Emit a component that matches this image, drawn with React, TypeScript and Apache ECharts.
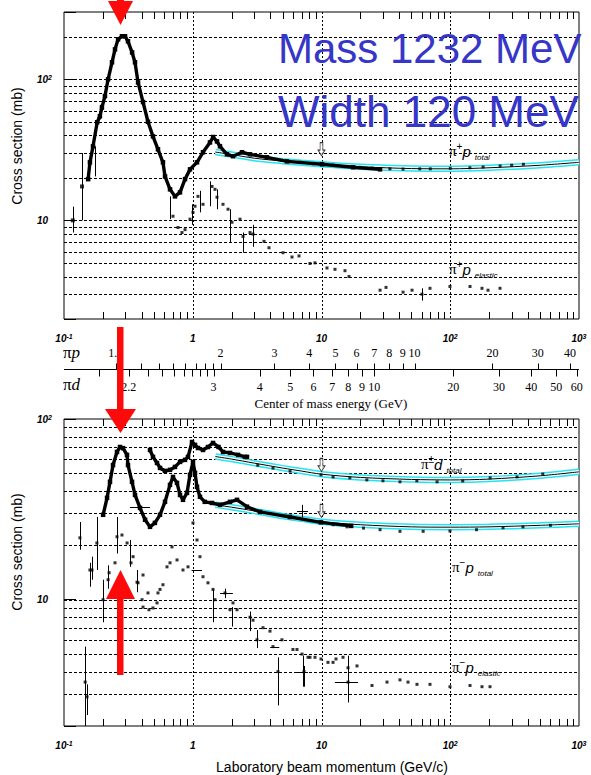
import React, { useEffect, useRef } from "react";
import * as echarts from "echarts";

// ---------- data : [lab beam momentum (GeV/c), cross section (mb)] ----------
// top panel : pi+ p
const pipTotal = [
  [0.154, 19.6], [0.159, 25.8], [0.168, 33.5], [0.181, 49.6], [0.19, 54.7], [0.197, 63], [0.208, 76],
  [0.22, 100], [0.236, 132], [0.249, 163], [0.263, 192], [0.282, 202], [0.298, 202], [0.314, 186],
  [0.338, 155], [0.356, 132], [0.376, 95], [0.411, 69], [0.449, 50], [0.491, 39.4], [0.537, 31.9],
  [0.587, 25.8], [0.609, 20.5], [0.666, 16.6], [0.728, 14.8], [0.796, 15.8], [0.871, 19.6], [0.952, 23],
  [1.079, 25.8], [1.201, 30.4], [1.361, 35.7], [1.44, 39], [1.543, 36.3], [1.628, 33.5], [1.845, 29.4],
  [2.054, 28.5], [2.413, 30.4], [2.784, 29.4], [3.773, 28], [5.395, 26.2], [10.1, 25], [17.6, 23.8], [28.5, 23],
];
const pipTotalLow = [[0.117, 10], [0.138, 17.4]];
const pipTotalHigh = [
  [6.8, 25.8], [8.6, 25.2], [12.3, 24.6], [15.8, 24.1], [19.9, 23.8], [24.7, 23.5], [34, 23.2], [43, 23.1],
  [58, 23.2], [70, 23.2], [100, 23.4], [142, 23.6], [180, 23.9], [244, 24.3], [300, 24.6], [370, 25],
];
const pipFit = [
  [1.5, 30.5], [2, 29.3], [3, 27.6], [5, 26.3], [7, 25.6], [10, 25], [20, 24], [50, 23.3], [100, 23.2],
  [200, 23.6], [500, 24.6], [1000, 25.8],
];
const pipElastic = [
  [0.702, 10.7], [0.768, 8.9], [0.825, 8.2], [0.871, 8.6], [0.952, 10.2], [1.004, 11.4], [1.041, 12.6],
  [1.098, 14.8], [1.201, 13.0], [1.411, 17.4], [1.489, 16.6], [1.543, 14.6], [1.718, 13.0], [1.879, 12.0],
  [2.018, 9.7], [2.328, 10.2], [2.457, 7.7], [2.784, 8.2], [2.938, 8.0], [3.576, 7.1], [3.91, 6.4],
  [5.02, 5.9], [5.9, 5.5], [6.69, 5.6], [8.14, 4.95], [8.9, 5.0], [11.03, 4.6], [12.73, 4.5], [15.22, 4.4],
  [16.35, 4.0], [28.5, 3.2], [31.7, 3.35], [43, 3.1], [50.5, 3.2], [60.3, 3.0], [69.6, 3.3], [99.5, 3.4],
  [142.4, 3.4], [176.4, 3.3], [196.5, 3.2], [243.5, 3.3],
];
// [p, low, high]
const pipErrV = [
  [0.117, 8.2, 12.5], [0.138, 10, 30], [0.174, 20.5, 33.5], [0.19, 52, 66], [0.666, 10.2, 14.8],
  [0.987, 9.3, 13], [1.138, 11.4, 16.2], [1.361, 12.6, 18.9], [1.543, 12, 16.6], [1.947, 7, 12],
  [2.457, 5.9, 8.2], [2.938, 6.5, 9.3], [60.3, 2.7, 3.3],
];
const topMarkers = [[10, 32]];

// bottom panel : pi+- d, pi- p
const pidTotal = [
  [0.4656, 67.4], [0.4913, 61.7], [0.5277, 57.1], [0.5568, 53.6], [0.6088, 51.6], [0.6657, 52.3],
  [0.728, 54.3], [0.7962, 57.9], [0.8708, 59.4], [0.9186, 61.7], [0.9867, 74.6], [1.041, 71.9],
  [1.098, 69.1], [1.201, 67.4], [1.313, 70], [1.437, 73.7], [1.585, 70], [1.718, 65.7], [1.947, 64.9],
  [2.25, 63.3], [2.547, 61.7], [2.638, 61.7],
];
const pidTotalHigh = [
  [3.2, 55.5], [4.2, 53.5], [5.7, 51.5], [9.91, 49.1], [12.3, 47.8], [16.6, 47.2], [22.5, 46], [30, 45.5],
  [40.7, 44.9], [55, 45.5], [79, 44.9], [125, 45.4], [204, 47.2], [330, 47.8], [523, 49.6],
];
const pidFit = [
  [1.5, 62], [2, 60], [3, 57], [5, 53.5], [7, 51.5], [10, 49.5], [20, 47.5], [50, 46.3], [100, 46],
  [200, 46.5], [500, 48.5], [1000, 51],
];
const pimTotal = [
  [0.2013, 29.5], [0.216, 36.6], [0.2277, 44.9], [0.2403, 55.6], [0.258, 65.7], [0.2723, 70], [0.2873, 69],
  [0.3085, 63.3], [0.3142, 55.6], [0.3375, 44.9], [0.3561, 38], [0.3893, 32.2], [0.4264, 27.7],
  [0.4656, 25.3], [0.5083, 26.6], [0.5568, 29.5], [0.6088, 34.8], [0.6657, 43.2], [0.7024, 47.8],
  [0.7546, 44.3], [0.7962, 38], [0.8401, 35.7], [0.9023, 39], [0.952, 49.1], [1.0044, 57.9], [1.041, 50.3],
  [1.079, 42.1], [1.138, 37.1], [1.24, 34.8], [1.411, 34.3], [1.628, 33.5], [1.947, 34.8], [2.207, 35.7],
  [2.638, 32.7], [3.329, 30.6], [5.693, 28.7], [9.91, 26.8], [17, 25.6],
];
const pimTotalHigh = [
  [12.3, 26], [15.8, 25.3], [21.2, 24.9], [28.5, 24.4], [40.7, 23.9], [61.6, 23.9], [99.5, 24],
  [160, 24.4], [257, 25], [367, 25.3], [600, 25.8],
];
const pimFit = [
  [1.5, 33.5], [2, 32.5], [3, 31], [5, 29], [7, 28], [10, 27], [20, 26], [50, 25.3], [100, 25.2],
  [200, 25.3], [500, 25.8], [1000, 26.3],
];
const pimElastic = [
  [0.133, 22], [0.146, 3.5], [0.151, 2.9], [0.159, 14.6], [0.165, 14.6], [0.18, 20.6], [0.201, 10],
  [0.22, 12.9], [0.224, 14.1], [0.249, 16], [0.258, 22.3], [0.282, 22.8], [0.309, 20.6], [0.3315, 16],
  [0.344, 17.3], [0.369, 12.5], [0.376, 12.4], [0.404, 10], [0.411, 13.7], [0.411, 9.1], [0.449, 10.9],
  [0.457, 8.8], [0.491, 9.0], [0.528, 9.6], [0.537, 10.9], [0.557, 11.4], [0.587, 12.1], [0.631, 15.2],
  [0.666, 16], [0.69, 19.6], [0.755, 16.6], [0.84, 14.6], [0.919, 15.2], [1.004, 26.6], [1.079, 21.4],
  [1.138, 17.3], [1.201, 13.4], [1.313, 12.4], [1.437, 11.4], [1.489, 10], [1.78, 10.9], [1.947, 8.8],
  [2.054, 9.6], [2.207, 8.8], [2.784, 8.0], [2.938, 7.7], [3.155, 6.0], [3.512, 7.0], [3.98, 6.7],
  [4.2, 5.5], [4.59, 4.0], [4.93, 6.0], [6.0, 5.3], [6.45, 5.3], [7.06, 5.0], [7.31, 4.0], [7.86, 4.8],
  [8.14, 4.8], [8.9, 4.8], [9.91, 4.7], [11.23, 4.5], [12.29, 4.5], [12.96, 4.7], [14.69, 4.8],
  [16.07, 4.2], [16.07, 3.5], [18.87, 4.3], [24.67, 3.35], [32.27, 3.5], [40.71, 3.6], [46.97, 3.5],
  [55.16, 3.4], [69.6, 3.4], [99.5, 3.3], [142.4, 3.35], [176.4, 3.3], [203.6, 3.3],
];
// [p, low, high]
const botErrV = [
  [0.133, 18.9, 26.9], [0.146, 2.0, 5.5], [0.151, 2.3, 3.4], [0.159, 11.8, 16], [0.18, 14.6, 28.7],
  [0.165, 12.9, 17.3], [0.201, 7.5, 12.9], [0.22, 11.5, 15.5], [0.258, 18, 28.7], [0.3256, 15.2, 21.4],
  [0.369, 11, 14.6], [1.437, 7.5, 11.4], [1.78, 10.2, 11.5], [2.02, 7.1, 9.1], [2.78, 6.7, 8.6],
  [3.155, 5.4, 6.8], [4.59, 2.6, 4.8], [7.31, 3.3, 4.3], [7.18, 3.3, 4.9], [16.07, 2.7, 4.9], [7.1, 28.5, 33.5],
];
// [sigma, pLow, pHigh]
const botErrH = [
  [32.6, 0.325, 0.466], [14.6, 0.98, 1.18], [10.9, 1.63, 2.05], [5.5, 4.0, 4.7], [4.0, 6.45, 7.85],
  [3.5, 12.7, 19.2], [31, 6.45, 7.85],
];
const botMarkers = [[10, 55.7], [10, 31]];

// axes
const topGridLines = [3, 4, 5, 6, 7, 8, 9, 10, 20, 30, 40, 50, 60, 70, 80, 90, 100, 200];
const botGridLines = [3, 4, 5, 6, 7, 8, 9, 10, 20, 30, 40, 50, 60, 70, 80, 90];
const xDecadeLines = [1, 10, 100];
const xMinorTicks: number[] = [];
[0.1, 1, 10, 100].forEach((d) => [2, 3, 4, 5, 6, 7, 8, 9].forEach((m) => xMinorTicks.push(+(d * m).toPrecision(3))));

// centre-of-mass energy scales (GeV)
const piPLabels = [1.2, 2, 3, 4, 5, 6, 7, 8, 9, 10, 20, 30, 40];
const piPMinor = [1.3, 1.4, 1.5, 1.6, 1.7, 1.8, 1.9];
const piDLabels = [2.2, 3, 4, 5, 6, 7, 8, 9, 10, 20, 30, 40, 50, 60];
const piDMinor = [2.1, 2.3, 2.4, 2.5, 2.6, 2.7, 2.8, 2.9];
const mPi = 0.13957, mP = 0.93827, mD = 1.87561;
function labP(W: number, M: number) {
  const E = (W * W - mPi * mPi - M * M) / (2 * M);
  return Math.sqrt(E * E - mPi * mPi);
}

// ---------- helpers ----------
const BLACK = "#000";
const CYAN = "#22e4f2";
const SANS = "Liberation Sans";
const SERIF = "Liberation Serif";

const axRich = {
  b: { fontFamily: SANS, fontSize: 10, fontWeight: "bold", fontStyle: "italic", color: BLACK, lineHeight: 11 },
  s: { fontFamily: SANS, fontSize: 7, fontWeight: "bold", fontStyle: "italic", color: BLACK, lineHeight: 6, verticalAlign: "top" },
};
function powFmt(v: number) {
  const l = Math.log10(v);
  const e = Math.round(l);
  if (Math.abs(l - e) > 1e-6) return "";
  if (e === 0) return "{b|1}";
  if (e === 1) return "{b|10}";
  return `{b|10}{s|${e}}`;
}

function hLines(vals: number[], gi: number) {
  return {
    type: "custom", xAxisIndex: gi, yAxisIndex: gi, silent: true, z: 1,
    data: vals.map((v) => [1, v]),
    renderItem: (params: any, api: any) => {
      const cs = params.coordSys;
      const y = Math.round(api.coord([1, api.value(1)])[1]) + 0.5;
      return { type: "line", shape: { x1: cs.x, y1: y, x2: cs.x + cs.width, y2: y }, style: { stroke: BLACK, lineWidth: 1, lineDash: [3, 2] } };
    },
  };
}
function vLines(vals: number[], gi: number) {
  return {
    type: "custom", xAxisIndex: gi, yAxisIndex: gi, silent: true, z: 1,
    data: vals.map((v) => [v, 10]),
    renderItem: (params: any, api: any) => {
      const cs = params.coordSys;
      const x = Math.round(api.coord([api.value(0), 10])[0]) + 0.5;
      return { type: "line", shape: { x1: x, y1: cs.y, x2: x, y2: cs.y + cs.height }, style: { stroke: BLACK, lineWidth: 1, lineDash: [2, 2] } };
    },
  };
}
function xTicks(vals: number[], gi: number, len: number) {
  return {
    type: "custom", xAxisIndex: gi, yAxisIndex: gi, silent: true, z: 1,
    data: vals.map((v) => [v, 10]),
    renderItem: (params: any, api: any) => {
      const cs = params.coordSys;
      const x = Math.round(api.coord([api.value(0), 10])[0]) + 0.5;
      const st = { stroke: BLACK, lineWidth: 1 };
      return {
        type: "group",
        children: [
          { type: "line", shape: { x1: x, y1: cs.y, x2: x, y2: cs.y + len }, style: st },
          { type: "line", shape: { x1: x, y1: cs.y + cs.height, x2: x, y2: cs.y + cs.height - len }, style: st },
        ],
      };
    },
  };
}
function errV(data: number[][], gi: number) {
  return {
    type: "custom", xAxisIndex: gi, yAxisIndex: gi, silent: true, z: 6, data,
    renderItem: (params: any, api: any) => {
      const a = api.coord([api.value(0), api.value(1)]);
      const b = api.coord([api.value(0), api.value(2)]);
      const x = Math.round(a[0]) + 0.5;
      return { type: "line", shape: { x1: x, y1: a[1], x2: x, y2: b[1] }, style: { stroke: BLACK, lineWidth: 1 } };
    },
  };
}
function errH(data: number[][], gi: number) {
  return {
    type: "custom", xAxisIndex: gi, yAxisIndex: gi, silent: true, z: 6, data,
    renderItem: (params: any, api: any) => {
      const a = api.coord([api.value(1), api.value(0)]);
      const b = api.coord([api.value(2), api.value(0)]);
      const y = Math.round(a[1]) + 0.5;
      return { type: "line", shape: { x1: a[0], y1: y, x2: b[0], y2: y }, style: { stroke: BLACK, lineWidth: 1 } };
    },
  };
}
function thick(data: number[][], gi: number) {
  return {
    type: "line", xAxisIndex: gi, yAxisIndex: gi, data, silent: true, z: 7,
    lineStyle: { color: BLACK, width: 3.4 }, itemStyle: { color: BLACK },
    symbol: "rect", symbolSize: 4.5, showSymbol: true,
  };
}
function dots(data: number[][], gi: number, size = 3) {
  return {
    type: "scatter", xAxisIndex: gi, yAxisIndex: gi, data, silent: true, z: 7,
    symbol: "rect", symbolSize: size, itemStyle: { color: BLACK },
  };
}
function fitBand(data: number[][], gi: number) {
  const base = { type: "line", xAxisIndex: gi, yAxisIndex: gi, data, silent: true, symbol: "none", smooth: 0.3 };
  return [
    { ...base, z: 3, lineStyle: { color: CYAN, width: 6.5 } },
    { ...base, z: 4, lineStyle: { color: "#fff", width: 3.5 } },
    { ...base, z: 5, lineStyle: { color: BLACK, width: 1 } },
  ];
}
function markers(data: number[][], gi: number) {
  return {
    type: "scatter", xAxisIndex: gi, yAxisIndex: gi, data, silent: true, z: 8,
    symbol: "path://M3,0 L7,0 L7,8 L10,8 L5,14 L0,8 L3,8 Z", symbolSize: [7, 13],
    itemStyle: { color: "#fff", borderColor: BLACK, borderWidth: 0.9 },
  };
}
const xAxisOf = (gi: number) => ({
  type: "log", logBase: 10, min: 0.1, max: 1000, gridIndex: gi,
  axisLine: { show: false }, axisTick: { show: false }, splitLine: { show: false },
  axisLabel: { formatter: powFmt, rich: axRich, margin: 14, color: BLACK },
});
const yAxisOf = (gi: number, min: number, max: number) => ({
  type: "log", logBase: 10, min, max, gridIndex: gi,
  axisLine: { show: false }, splitLine: { show: false },
  axisTick: { show: true, inside: true, length: 12, lineStyle: { color: BLACK } },
  axisLabel: { formatter: powFmt, rich: axRich, margin: 27, align: "left", color: BLACK },
});

const option: any = {
  animation: false,
  backgroundColor: "#fff",
  textStyle: { fontFamily: SANS },
  grid: [
    { left: 64, top: 12, width: 515, height: 307, show: true, borderColor: BLACK, borderWidth: 1 },
    { left: 64, top: 419, width: 515, height: 307, show: true, borderColor: BLACK, borderWidth: 1 },
  ],
  xAxis: [xAxisOf(0), xAxisOf(1)],
  yAxis: [yAxisOf(0, 2, 300), yAxisOf(1, 2, 100)],
  series: [
    hLines(topGridLines, 0), vLines(xDecadeLines, 0), xTicks(xMinorTicks, 0, 7),
    hLines(botGridLines, 1), vLines(xDecadeLines, 1), xTicks(xMinorTicks, 1, 7),
    ...fitBand(pipFit, 0), thick(pipTotal, 0), dots(pipTotalLow, 0, 4), dots(pipTotalHigh, 0, 3),
    dots(pipElastic, 0, 3), errV(pipErrV, 0), markers(topMarkers, 0),
    ...fitBand(pidFit, 1), ...fitBand(pimFit, 1), thick(pidTotal, 1), thick(pimTotal, 1),
    dots(pidTotalHigh, 1, 3), dots(pimTotalHigh, 1, 3), dots(pimElastic, 1, 3),
    errV(botErrV, 1), errH(botErrH, 1), markers(botMarkers, 1),
  ],
};

function buildGraphics(chart: any) {
  const px = (p: number) => chart.convertToPixel({ xAxisIndex: 0 }, p) as number;
  const g: any[] = [];
  const Z = 100;
  const text = (x: number, y: number, t: string, font: string, extra: any = {}, el: any = {}) => ({
    type: "text", x, y, z: Z, ...el,
    style: { text: t, font, fill: BLACK, align: "center", verticalAlign: "middle", textAlign: "center", textVerticalAlign: "middle", ...extra },
  });
  // centre-of-mass axis
  const yl = 369.5;
  g.push({ type: "line", z: Z, shape: { x1: px(0.1), y1: yl, x2: px(1000), y2: yl }, style: { stroke: BLACK, lineWidth: 1 } });
  [...piPLabels, ...piPMinor].forEach((W) => {
    const x = Math.round(px(labP(W, mP))) + 0.5;
    g.push({ type: "line", z: Z, shape: { x1: x, y1: yl - 6, x2: x, y2: yl }, style: { stroke: BLACK, lineWidth: 1 } });
  });
  piPLabels.forEach((W) => g.push(text(px(labP(W, mP)), 353, String(W), `12px "${SERIF}"`)));
  [...piDLabels, ...piDMinor].forEach((W) => {
    const x = Math.round(px(labP(W, mD))) + 0.5;
    g.push({ type: "line", z: Z, shape: { x1: x, y1: yl, x2: x, y2: yl + 7 }, style: { stroke: BLACK, lineWidth: 1 } });
  });
  piDLabels.forEach((W) => g.push(text(px(labP(W, mD)), 387, String(W), `12px "${SERIF}"`)));
  const piRich = {
    pi: { fontFamily: SERIF, fontSize: 17, fill: BLACK, lineHeight: 14 },
    it: { fontFamily: SERIF, fontSize: 17, fontStyle: "italic", fill: BLACK, lineHeight: 14 },
  };
  g.push(text(63, 352, "{pi|π}{it|p}", `17px "${SERIF}"`, { rich: piRich, align: "left", textAlign: "left" }));
  g.push(text(63, 384, "{pi|π}{it|d}", `17px "${SERIF}"`, { rich: piRich, align: "left", textAlign: "left" }));
  g.push(text(331, 403, "Center of mass energy (GeV)", `13px "${SERIF}"`));

  // axis titles
  g.push(text(17, 146, "Cross section (mb)", `14px "${SANS}"`, {}, { rotation: Math.PI / 2 }));
  g.push(text(17, 552, "Cross section (mb)", `14px "${SANS}"`, {}, { rotation: Math.PI / 2 }));
  g.push(text(332, 767, "Laboratory beam momentum (GeV/c)", `14px "${SANS}"`));

  // reaction labels
  const annRich = {
    pi: { fontFamily: SERIF, fontSize: 15, fill: BLACK, lineHeight: 20 },
    sup: { fontFamily: SANS, fontSize: 10, fill: BLACK, lineHeight: 10, verticalAlign: "top" },
    p: { fontFamily: SANS, fontSize: 15, fontStyle: "italic", fill: BLACK, lineHeight: 20 },
    sub: { fontFamily: SANS, fontSize: 8, fontStyle: "italic", fill: BLACK, lineHeight: 10, verticalAlign: "bottom", padding: [0, 0, 0, 4] },
  };
  const ann = (x: number, y: number, s: string, p: string, sub: string) =>
    text(x, y, `{pi|π}{sup|${s}}{p|${p}}{sub|${sub}}`, `15px "${SANS}"`, { rich: annRich, align: "left", textAlign: "left" });
  g.push(ann(449, 151, "+", "p", "total"));
  g.push(ann(449, 269, "+", "p", "elastic"));
  g.push(ann(421, 464, "±", "d", "total"));
  g.push(ann(452, 567, "−", "p", "total"));
  g.push(ann(452, 667, "−", "p", "elastic"));

  // blue annotation
  const BLUE = "#3636c8";
  g.push(text(278, 48, "Mass 1232 MeV", `42px "${SANS}"`, { fill: BLUE, align: "left", textAlign: "left" }));
  g.push(text(278, 111, "Width 120 MeV", `44px "${SANS}"`, { fill: BLUE, align: "left", textAlign: "left" }));

  // red arrows
  const RED = "#ff0a0a";
  g.push({ type: "rect", z: Z + 1, shape: { x: 117, y: 0, width: 7, height: 4 }, style: { fill: RED } });
  g.push({ type: "polygon", z: Z + 1, shape: { points: [[108, 1], [133, 1], [120.5, 25]] }, style: { fill: RED } });
  g.push({ type: "rect", z: Z + 1, shape: { x: 117, y: 327, width: 6.5, height: 86 }, style: { fill: RED } });
  g.push({ type: "polygon", z: Z + 1, shape: { points: [[105, 409], [136, 409], [120.5, 433]] }, style: { fill: RED } });
  g.push({ type: "rect", z: Z + 1, shape: { x: 117, y: 596, width: 6.5, height: 79 }, style: { fill: RED } });
  g.push({ type: "polygon", z: Z + 1, shape: { points: [[106, 599], [135, 599], [120.5, 570]] }, style: { fill: RED } });
  return g;
}

export default function App() {
  const ref = useRef<HTMLDivElement>(null);
  useEffect(() => {
    const chart = echarts.init(ref.current!, null, { renderer: "svg" });
    chart.setOption(option);
    chart.setOption({ graphic: buildGraphics(chart) });
    return () => chart.dispose();
  }, []);
  return <div ref={ref} style={{ position: "absolute", left: 0, top: 0, width: 591, height: 775 }} />;
}
